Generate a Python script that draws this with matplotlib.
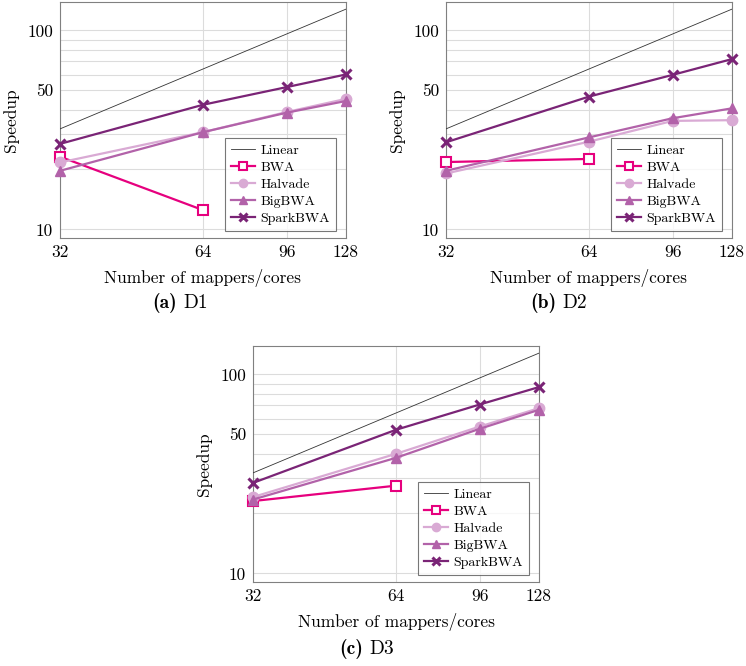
import matplotlib
matplotlib.use("Agg")
import matplotlib.pyplot as plt
from matplotlib.ticker import FixedLocator, NullFormatter, FixedFormatter

plt.rcParams['font.family'] = ['cmr10', 'DejaVu Serif']
plt.rcParams['axes.formatter.use_mathtext'] = True
plt.rcParams['mathtext.fontset'] = 'cm'

cores = [32, 64, 96, 128]
bwa_cores = [32, 64]

# D1
d1_bwa = [23.2, 12.5]
d1_halvade = [21.7, 30.8, 38.9, 45.3]
d1_bigbwa = [19.7, 30.8, 38.6, 44.2]
d1_spark = [26.9, 42.3, 51.9, 60.1]
# D2
d2_bwa = [21.8, 22.6]
d2_halvade = [19.1, 27.6, 35.1, 35.4]
d2_bigbwa = [19.7, 29.0, 36.2, 40.6]
d2_spark = [27.4, 46.5, 59.8, 71.8]
# D3
d3_bwa = [23.1, 27.6]
d3_halvade = [24.2, 39.9, 54.7, 67.7]
d3_bigbwa = [23.5, 38.1, 53.3, 66.4]
d3_spark = [28.5, 52.7, 70.6, 86.4]

linear = cores
captions = [("(a)", "D1"), ("(b)", "D2"), ("(c)", "D3")]

c_bwa = '#E6007E'
c_halvade = '#D9AAD4'
c_bigbwa = '#B262A9'
c_spark = '#7A2476'

fig = plt.figure(figsize=(7.46, 6.66), dpi=100)
W, H = 746, 666

def make_ax(left_px, top_px, w_px=286, h_px=236):
    return fig.add_axes([left_px / W, 1 - (top_px + h_px) / H, w_px / W, h_px / H])

axes = [make_ax(60, 2), make_ax(446, 2), make_ax(253, 346)]
data = [(d1_bwa, d1_halvade, d1_bigbwa, d1_spark),
        (d2_bwa, d2_halvade, d2_bigbwa, d2_spark),
        (d3_bwa, d3_halvade, d3_bigbwa, d3_spark)]

for ax, (bwa, hal, big, spk) in zip(axes, data):
    ax.set_xscale('log')
    ax.set_yscale('log')
    ax.plot(cores, linear, color='#333333', lw=0.6, label='Linear', zorder=3)
    ax.plot(bwa_cores, bwa, color=c_bwa, lw=1.6, marker='s', ms=6.5,
            mfc='white', mec=c_bwa, mew=1.5, label='BWA', zorder=4, clip_on=False)
    ax.plot(cores, hal, color=c_halvade, lw=1.6, marker='o', ms=7.5,
            label='Halvade', zorder=4, clip_on=False)
    ax.plot(cores, big, color=c_bigbwa, lw=1.6, marker='^', ms=7.5,
            label='BigBWA', zorder=4, clip_on=False)
    ax.plot(cores, spk, color=c_spark, lw=1.6, marker='x', ms=7, mew=2.2,
            label='SparkBWA', zorder=5, clip_on=False)
    ax.set_xlim(32, 128)
    ax.set_ylim(9.05, 139)
    ax.xaxis.set_major_locator(FixedLocator(cores))
    ax.xaxis.set_major_formatter(FixedFormatter([str(c) for c in cores]))
    ax.xaxis.set_minor_locator(FixedLocator([]))
    ax.xaxis.set_minor_formatter(NullFormatter())
    ax.yaxis.set_major_locator(FixedLocator([10, 50, 100]))
    ax.yaxis.set_major_formatter(FixedFormatter(['10', '50', '100']))
    ax.yaxis.set_minor_locator(FixedLocator([20, 30, 40, 60, 70, 80, 90]))
    ax.yaxis.set_minor_formatter(NullFormatter())
    ax.grid(True, which='both', color='#DCDCDC', lw=0.8, zorder=0)
    ax.set_axisbelow(True)
    ax.tick_params(which='both', length=0, labelsize=12.5, pad=5)
    for s in ax.spines.values():
        s.set_color('#808080')
        s.set_linewidth(0.8)
    ax.set_xlabel('Number of mappers/cores', fontsize=12.5, labelpad=6)
    ax.set_ylabel('Speedup', fontsize=12.5, labelpad=6)
    leg = ax.legend(loc='lower right', bbox_to_anchor=(0.965, 0.03), fontsize=10,
                    frameon=True, fancybox=False, edgecolor='#555555',
                    handlelength=1.7, handletextpad=0.4, labelspacing=0.3,
                    borderpad=0.45, borderaxespad=0.0, markerscale=0.8)
    leg.get_frame().set_linewidth(0.8)

cap_pos = [(180, 303), (559, 303), (366, 649)]
for (lab, name), (cx, cy) in zip(captions, cap_pos):
    fig.text(cx / W - 0.004, 1 - cy / H, lab, ha='right', va='center',
             fontsize=14, family=['cmb10', 'DejaVu Serif'])
    fig.text(cx / W + 0.004, 1 - cy / H, name, ha='left', va='center',
             fontsize=14, family=['cmr10', 'DejaVu Serif'])

fig.savefig('out.png', dpi=100)
